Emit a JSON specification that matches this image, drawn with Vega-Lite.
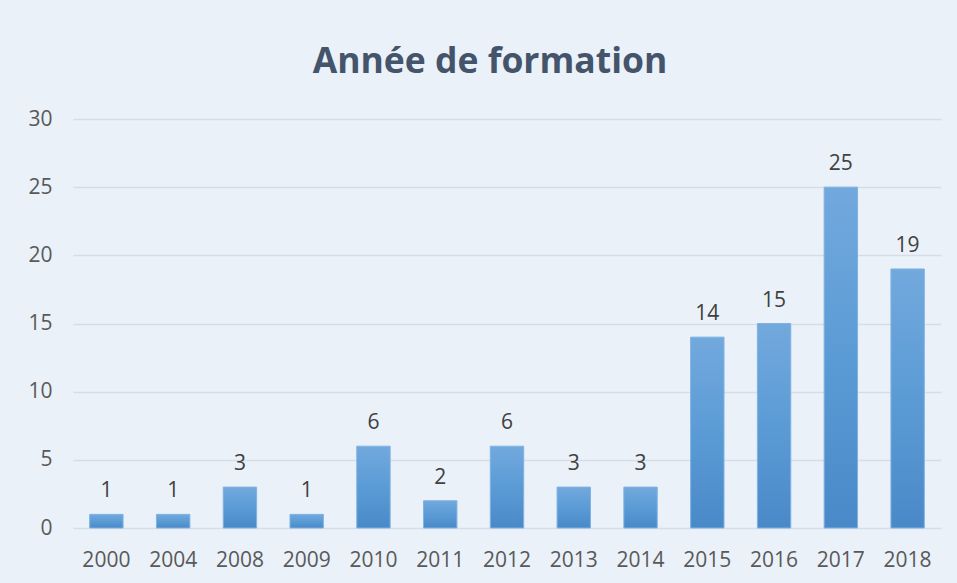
{
  "$schema": "https://vega.github.io/schema/vega-lite/v6.json",
  "autosize": "none",
  "width": 868,
  "height": 409,
  "padding": {"left": 73, "top": 119, "right": 16, "bottom": 55},
  "background": "#EAF1F9",
  "title": {
    "text": "Année de formation",
    "anchor": "middle",
    "frame": "group",
    "dx": -17,
    "offset": 28,
    "font": "Open Sans",
    "fontSize": 35.5,
    "fontWeight": "bold",
    "color": "#44546A"
  },
  "data": {
    "values": [
      {"annee": "2000", "nombre": 1},
      {"annee": "2004", "nombre": 1},
      {"annee": "2008", "nombre": 3},
      {"annee": "2009", "nombre": 1},
      {"annee": "2010", "nombre": 6},
      {"annee": "2011", "nombre": 2},
      {"annee": "2012", "nombre": 6},
      {"annee": "2013", "nombre": 3},
      {"annee": "2014", "nombre": 3},
      {"annee": "2015", "nombre": 14},
      {"annee": "2016", "nombre": 15},
      {"annee": "2017", "nombre": 25},
      {"annee": "2018", "nombre": 19}
    ]
  },
  "encoding": {
    "x": {
      "field": "annee",
      "type": "ordinal",
      "sort": null,
      "scale": {"paddingInner": 0.5, "paddingOuter": 0.25},
      "axis": {
        "title": null,
        "labelAngle": 0,
        "domain": false,
        "ticks": false,
        "labelPadding": 21,
        "labelFont": "Open Sans",
        "labelFontSize": 21,
        "labelColor": "#595959"
      }
    },
    "y": {
      "field": "nombre",
      "type": "quantitative",
      "scale": {"domain": [0, 30]},
      "axis": {
        "title": null,
        "values": [0, 5, 10, 15, 20, 25, 30],
        "domain": false,
        "ticks": false,
        "labelPadding": 21,
        "labelFont": "Open Sans",
        "labelFontSize": 21,
        "labelColor": "#595959",
        "gridColor": "#D6DDE7",
        "gridWidth": 1.5
      }
    }
  },
  "layer": [
    {
      "mark": {
        "type": "bar",
        "stroke": "#7FB2E3",
        "strokeWidth": 1,
        "color": {
          "gradient": "linear",
          "x1": 0, "y1": 0, "x2": 0, "y2": 1,
          "stops": [
            {"offset": 0, "color": "#72A9DD"},
            {"offset": 0.5, "color": "#5B9BD5"},
            {"offset": 1, "color": "#4A89C8"}
          ]
        }
      }
    },
    {
      "mark": {
        "type": "text",
        "baseline": "alphabetic",
        "dy": -17,
        "font": "Open Sans",
        "fontSize": 21,
        "color": "#404040"
      },
      "encoding": {"text": {"field": "nombre", "type": "quantitative"}}
    }
  ],
  "config": {"view": {"stroke": null}}
}
